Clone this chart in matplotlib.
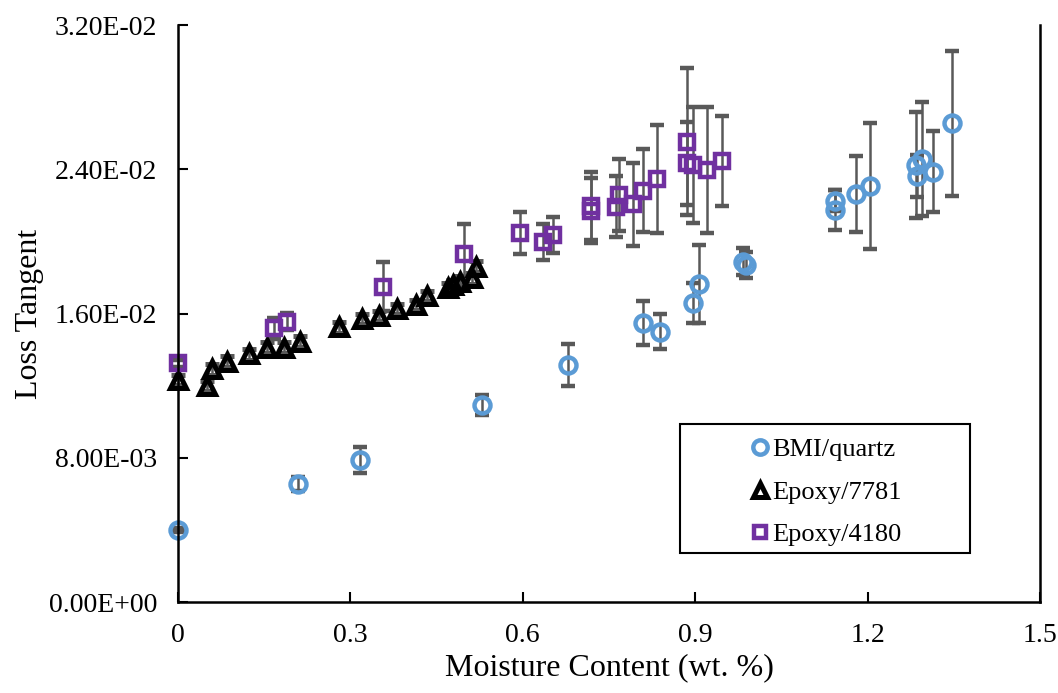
"""Loss tangent vs moisture content for three laminates."""

import matplotlib

matplotlib.use("Agg")
import matplotlib.pyplot as plt
from matplotlib.patches import Rectangle
from matplotlib.ticker import FuncFormatter

# BMI/quartz
bmi_x = [0.000, 0.209, 0.317, 0.529, 0.679, 0.809, 0.838, 0.896, 0.907, 0.984,
         0.988, 1.144, 1.144, 1.180, 1.204, 1.285, 1.286, 1.295, 1.313, 1.347]
bmi_y = [0.00399, 0.00654, 0.00788, 0.01093, 0.01314, 0.01546, 0.01499, 0.01657,
         0.01762, 0.01887, 0.01869, 0.02226, 0.02174, 0.02263, 0.02307, 0.02424,
         0.02364, 0.02457, 0.02386, 0.02655]
bmi_err = [0.0001, 0.0004, 0.0007, 0.00057, 0.00116, 0.00122, 0.00097, 0.00111,
           0.00216, 0.00075, 0.00072, 0.0006, 0.0011, 0.0021, 0.00348, 0.00294,
           0.00116, 0.00314, 0.00224, 0.00402]

# Epoxy/7781
e7781_x = [0.000, 0.050, 0.059, 0.085, 0.124, 0.155, 0.184, 0.212, 0.280, 0.320,
           0.350, 0.382, 0.415, 0.433, 0.470, 0.479, 0.491, 0.511, 0.519]
e7781_y = [0.01231, 0.01198, 0.01290, 0.01333, 0.01374, 0.01410, 0.01410, 0.01444,
           0.01523, 0.01570, 0.01586, 0.01625, 0.01647, 0.01697, 0.01740, 0.01758,
           0.01776, 0.01795, 0.01860]
e7781_err = [0.0003] * len(e7781_x)

# Epoxy/4180
e4180_x = [0.000, 0.167, 0.189, 0.356, 0.497, 0.595, 0.636, 0.653, 0.718, 0.719,
           0.762, 0.768, 0.792, 0.809, 0.834, 0.885, 0.886, 0.896, 0.920, 0.946]
e4180_y = [0.01324, 0.01518, 0.01555, 0.01749, 0.01928, 0.02048, 0.01998, 0.02035,
           0.02195, 0.02170, 0.02192, 0.02257, 0.02207, 0.02281, 0.02344, 0.02433,
           0.02553, 0.02424, 0.02396, 0.02446]
e4180_err = [0.0002, 0.00057, 0.00048, 0.00136, 0.0017, 0.00117, 0.0010, 0.00098,
             0.0019, 0.0018, 0.0017, 0.0020, 0.0023, 0.0023, 0.0030, 0.0023,
             0.00407, 0.0032, 0.00347, 0.0025]

series_labels = ["BMI/quartz", "Epoxy/7781", "Epoxy/4180"]
x_ticks = [0, 0.3, 0.6, 0.9, 1.2, 1.5]
x_tick_labels = ["0", "0.3", "0.6", "0.9", "1.2", "1.5"]
y_ticks = [0.0, 0.008, 0.016, 0.024, 0.032]

plt.rcParams["font.family"] = ["Liberation Serif", "DejaVu Serif"]

fig = plt.figure(figsize=(10.58, 6.93), dpi=100)
ax = fig.add_axes([0.1682, 0.1313, 0.8148, 0.8326])

gris = "#595959"
comun = dict(ecolor=gris, elinewidth=1.8, capsize=5, capthick=1.8,
             linestyle="none", mfc="none", clip_on=False)

serie_bmi = ax.errorbar(bmi_x, bmi_y, yerr=bmi_err, fmt="o", ms=11.5, mew=3.2,
                        mec="#5B9BD5", **comun)
serie_7781 = ax.errorbar(e7781_x, e7781_y, yerr=e7781_err, fmt="^", ms=11.5, mew=3.6,
                         mec="black", **comun)
serie_4180 = ax.errorbar(e4180_x, e4180_y, yerr=e4180_err, fmt="s", ms=10, mew=3.2,
                         mec="#7030A0", **comun)

ax.set_xlim(0, 1.5)
ax.set_ylim(0, 0.032)
ax.set_xticks(x_ticks)
ax.set_xticklabels(x_tick_labels)
ax.set_yticks(y_ticks)
ax.yaxis.set_major_formatter(FuncFormatter(lambda v, _pos: f"{v:.2E}"))
ax.tick_params(direction="in", length=7, width=1.5, labelsize=20, pad=15)

for lado in ("left", "bottom", "right"):
    ax.spines[lado].set_linewidth(1.8)
ax.spines["top"].set_visible(False)

ax.set_xlabel("Moisture Content (wt. %)", fontsize=23, labelpad=4)
ax.set_ylabel("Loss Tangent", fontsize=23, labelpad=3.5)

# caja de la leyenda dibujada a mano, como en Excel
ax.add_patch(Rectangle((0.5824, 0.0849), 0.3364, 0.2236, transform=ax.transAxes,
                       fill=False, edgecolor="black", linewidth=1.5, zorder=5))
ax.legend(handles=[serie_bmi[0], serie_7781[0], serie_4180[0]], labels=series_labels,
          loc="center left", bbox_to_anchor=(0.663, 0.1906), frameon=False,
          fontsize=19, handlelength=0.8, handletextpad=0.05, borderpad=0,
          borderaxespad=0, labelspacing=0.72, numpoints=1, markerscale=0.9)

fig.savefig("out.png", dpi=100)
